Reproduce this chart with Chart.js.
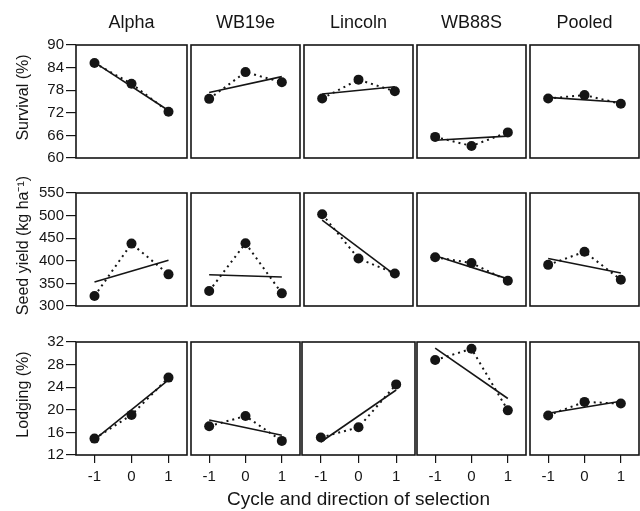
<!DOCTYPE html>
<html>
<head>
<meta charset="utf-8">
<script src="https://cdn.jsdelivr.net/npm/chart.js@4"></script>
<style>
  html, body { margin: 0; padding: 0; background: #fff; overflow: hidden; }
  #wrap { position: relative; width: 640px; height: 511px; overflow: hidden; }
  #wrap canvas { position: absolute; }
</style>
</head>
<body>
<div id="wrap"></div>
<script>
const cultivars = ['Alpha', 'WB19e', 'Lincoln', 'WB88S', 'Pooled'];
const cycles = [-1, 0, 1];
const fitEnds = [-1, 1];

// means per cultivar at cycle -1, 0, 1
const survival = [[85.2, 79.7, 72.3], [75.7, 82.8, 80.1], [75.8, 80.8, 77.7], [65.6, 63.2, 66.8], [75.8, 76.7, 74.4]];
const yieldKg = [[322, 438, 370], [333, 439, 328], [503, 405, 372], [408, 395, 356], [391, 420, 358]];
const lodging = [[14.9, 19.1, 25.7], [17.1, 18.9, 14.5], [15.1, 16.9, 24.5], [28.8, 30.8, 19.9], [19.0, 21.4, 21.1]];

// regression line ends (at -1 and 1)
const survivalFit = [[85.4, 72.6], [77.4, 81.6], [77.0, 78.9], [64.7, 65.8], [76.1, 74.8]];
const yieldFit = [[353, 401], [369, 364], [490, 369], [411, 360], [405, 373]];
const lodgingFit = [[14.7, 25.3], [18.2, 15.5], [14.3, 23.5], [30.9, 22.0], [19.4, 21.5]];

const rowTitles = ['Survival (%)', 'Seed yield (kg ha\u207B\u00B9)', 'Lodging (%)'];
const xTitle = 'Cycle and direction of selection';
const rowValues = [survival, yieldKg, lodging];
const rowFits = [survivalFit, yieldFit, lodgingFit];
const rowMin = [60, 300, 12];
const rowMax = [90, 550, 32];
const rowStep = [6, 50, 4];

const colLeft = [76, 189, 302, 415, 528];
const rowTop = [45, 193, 342];
const panelW = 113, panelH = 113;
const ink = '#151515';
const font = "'Liberation Sans', Arial, sans-serif";

// frame round each panel
const boxPlugin = {
  id: 'box',
  afterDatasetsDraw(chart) {
    const a = chart.chartArea, ctx = chart.ctx;
    ctx.save();
    ctx.strokeStyle = ink;
    ctx.lineWidth = 1.6;
    ctx.strokeRect(a.left, a.top, a.right - a.left, a.bottom - a.top);
    ctx.restore();
  }
};

// column heads and axis captions (some are longer than one panel)
const captionPlugin = {
  id: 'caption',
  afterDraw(chart, args, opts) {
    const a = chart.chartArea, ctx = chart.ctx;
    const cx = (a.left + a.right) / 2, cy = (a.top + a.bottom) / 2;
    ctx.save();
    ctx.fillStyle = ink;
    ctx.textAlign = 'center';
    ctx.textBaseline = 'middle';
    (opts.items || []).forEach(it => {
      ctx.font = it.size + 'px ' + font;
      ctx.save();
      if (it.kind === 'y') {
        ctx.translate(it.x, cy - 4);
        ctx.rotate(-Math.PI / 2);
        ctx.fillText(it.text, 0, 0);
      } else if (it.kind === 'head') {
        ctx.fillText(it.text, cx, a.top - 22);
      } else {
        ctx.fillText(it.text, cx, chart.height - 11);
      }
      ctx.restore();
    });
    ctx.restore();
  }
};

const wrap = document.getElementById('wrap');

for (let r = 0; r < 3; r++) {
  for (let c = 0; c < 5; c++) {
    const ext = { l: c === 0 ? 76 : 3, r: 3, t: r === 0 ? 45 : 24, b: r === 2 ? 56 : 12 };
    if (r === 2 && c === 2) { ext.l = 170; ext.r = 170; }
    const cv = document.createElement('canvas');
    cv.width = panelW + ext.l + ext.r;
    cv.height = panelH + ext.t + ext.b;
    cv.style.left = (colLeft[c] - ext.l) + 'px';
    cv.style.top = (rowTop[r] - ext.t) + 'px';
    wrap.appendChild(cv);

    const vals = rowValues[r][c];
    const fit = rowFits[r][c];
    const items = [];
    if (r === 0) items.push({ kind: 'head', text: cultivars[c], size: 18 });
    if (c === 0) items.push({ kind: 'y', text: rowTitles[r], size: 16, x: 24 });
    if (r === 2 && c === 2) items.push({ kind: 'x', text: xTitle, size: 19 });

    new Chart(cv, {
      type: 'line',
      data: {
        datasets: [{
          data: cycles.map((x, i) => ({ x: x, y: vals[i] })),
          borderColor: ink,
          borderWidth: 2,
          borderDash: [2, 4],
          backgroundColor: ink,
          pointRadius: 5,
          pointBorderWidth: 0,
          tension: 0,
          fill: false
        }, {
          data: fitEnds.map((x, i) => ({ x: x, y: fit[i] })),
          borderColor: ink,
          borderWidth: 1.6,
          pointRadius: 0,
          tension: 0,
          fill: false
        }]
      },
      options: {
        responsive: false,
        animation: false,
        events: [],
        layout: {
          padding: {
            left: c === 0 ? 0 : ext.l,
            right: ext.r,
            top: ext.t,
            bottom: r === 2 ? 0 : ext.b
          }
        },
        plugins: {
          legend: { display: false },
          tooltip: { enabled: false },
          title: { display: false },
          caption: { items: items }
        },
        scales: {
          x: {
            type: 'linear',
            min: -1.5,
            max: 1.5,
            display: r === 2,
            afterBuildTicks: s => { s.ticks = cycles.map(v => ({ value: v })); },
            afterFit: s => { if (r === 2) s.height = 56; },
            grid: { drawOnChartArea: false, tickLength: 8, color: ink, lineWidth: 1.2 },
            border: { display: false },
            ticks: { color: ink, font: { family: font, size: 15 }, padding: 5, maxRotation: 0 }
          },
          y: {
            type: 'linear',
            min: rowMin[r],
            max: rowMax[r],
            display: c === 0,
            afterFit: s => { if (c === 0) s.width = 76; },
            grid: { drawOnChartArea: false, tickLength: 10, color: ink, lineWidth: 1.2 },
            border: { display: false },
            ticks: { stepSize: rowStep[r], color: ink, font: { family: font, size: 15 }, padding: 2 }
          }
        }
      },
      plugins: [boxPlugin, captionPlugin]
    });
  }
}
</script>
</body>
</html>
